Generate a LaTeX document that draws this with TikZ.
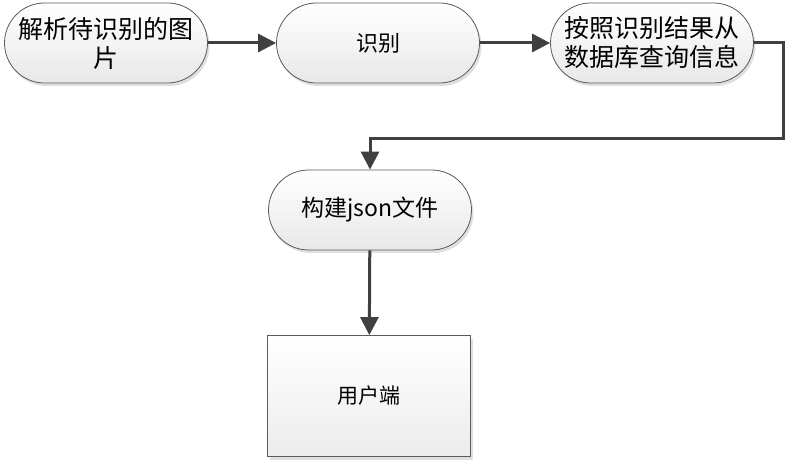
\documentclass[tikz,border=0pt]{standalone}
\usepackage{fontspec}
\setmainfont{Noto Sans CJK SC}
\usepackage{tikz}
\usetikzlibrary{positioning,arrows.meta,shadows}
\definecolor{linegray}{HTML}{404040}
\definecolor{edgegray}{HTML}{5A5A5A}

\begin{document}
\begin{tikzpicture}[x=1pt, y=1pt,
    stepnode/.style={draw=edgegray, line width=0.8pt, rounded corners=40pt,
      minimum width=203pt, minimum height=80pt, inner sep=2pt, align=center,
      top color=white, bottom color=gray!18,
      drop shadow={opacity=0.25, shadow xshift=2pt, shadow yshift=-3pt}},
    boxnode/.style={draw=edgegray, line width=0.8pt,
      minimum width=203pt, minimum height=121pt,
      top color=white, bottom color=gray!15,
      drop shadow={opacity=0.25, shadow xshift=2pt, shadow yshift=-3pt}},
    flow/.style={draw=linegray, line width=3pt,
      -{Triangle[length=18pt, width=18pt]}}]
  \useasboundingbox (0,0) rectangle (790,-465);
  % top row
  \node[stepnode, font=\fontsize{25}{29}\selectfont] (parse) at (106,-43)
    {解析待识别的图\\片};
  \node[stepnode, font=\fontsize{22}{25}\selectfont] (recog) at (378,-43) {识别};
  \node[stepnode, font=\fontsize{25}{29}\selectfont] (query) at (652,-43)
    {按照识别结果从\\数据库查询信息};
  % middle and bottom
  \node[stepnode, font=\fontsize{23}{26}\selectfont] (json) at (370,-210)
    {构建json文件};
  \node[boxnode, font=\fontsize{21}{24}\selectfont] (client) at (369,-396) {用户端};
  % connectors
  \coordinate (turn) at (783,-139);
  \draw[flow] (parse) -- (recog);
  \draw[flow] (recog) -- (query);
  \draw[flow, rounded corners=0pt] (query.east) -| (turn) -| (json.north);
  \draw[flow] (json) -- (client);
\end{tikzpicture}
\end{document}
